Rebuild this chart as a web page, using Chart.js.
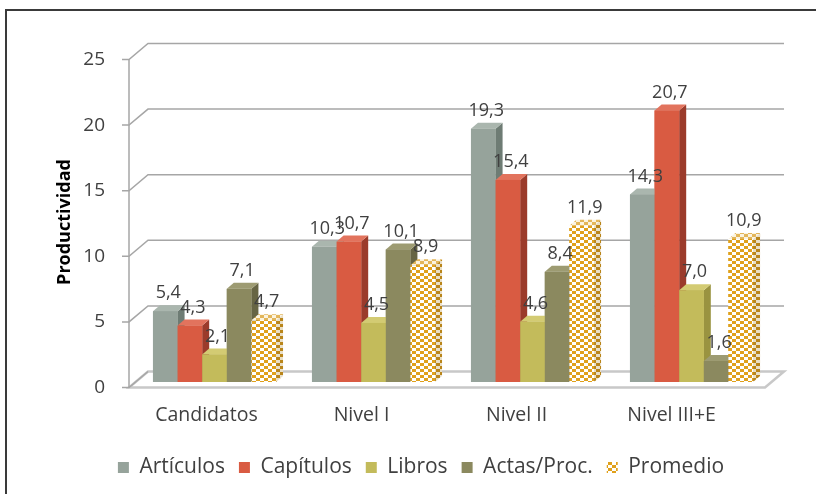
<!DOCTYPE html>
<html>
<head>
<meta charset="utf-8">
<script src="https://cdn.jsdelivr.net/npm/chart.js@4.4.0/dist/chart.umd.min.js"></script>
<style>
html, body { margin: 0; padding: 0; background: #fff; }
</style>
</head>
<body>
<canvas id="chart" width="816" height="494"></canvas>
<script>
// datos del gráfico
const categories = ["Candidatos", "Nivel I", "Nivel II", "Nivel III+E"];
const articulos  = [5.4, 10.3, 19.3, 14.3];
const capitulos  = [4.3, 10.7, 15.4, 20.7];
const libros     = [2.1, 4.5, 4.6, 7.0];
const actas      = [7.1, 10.1, 8.4, 1.6];
const promedio   = [4.7, 8.9, 11.9, 10.9];
const yTicks     = [0, 5, 10, 15, 20, 25];

const textColor = "#404040";
const fontName  = "'Open Sans'";

// profundidad de las barras y planos (efecto 3D de Excel)
const DX = 7, DY = -6;
const FRONT = { dx: -6, dy: 5.5 };
const BACK  = { dx: 13, dy: -10.5 };
const LABEL_SCALE = 0.975;   // las etiquetas de categoría quedan en el plano frontal

function makePattern(fg, bg) {
    let c = document.createElement("canvas");
    c.width = 8; c.height = 6;
    let g = c.getContext("2d");
    g.fillStyle = bg; g.fillRect(0, 0, 8, 6);
    g.fillStyle = fg;
    g.fillRect(0, 0, 4, 3);
    g.fillRect(4, 3, 4, 3);
    return g.createPattern(c, "repeat");
}

const promFront = makePattern("#e0a11c", "#ffffff");
const promSide  = makePattern("#b9851a", "#e9dfc8");
const promTop   = makePattern("#e3b65a", "#fbf3df");

// colores: frente, lado, arriba
const faces = [
    ["#96a39b", "#6e7c74", "#aab6ae"],
    ["#d95b42", "#9b3b2b", "#e2735d"],
    ["#c3bb5b", "#9a9340", "#d3cb73"],
    ["#8b895f", "#676544", "#9d9b72"],
    [promFront, promSide, promTop]
];

function fmt(v) {
    return v.toFixed(1).replace(".", ",");
}

const depthPlugin = {
    id: "depth3d",
    beforeDraw(chart) {
        let ctx = chart.ctx;
        ctx.save();
        ctx.fillStyle = "#ffffff";
        ctx.fillRect(0, 0, chart.width, chart.height);
        // marco
        ctx.strokeStyle = "#3a3a3a";
        ctx.lineWidth = 2;
        ctx.strokeRect(6, 10, 830, 520);
        ctx.restore();
    },
    beforeDatasetsDraw(chart) {
        let ctx = chart.ctx;
        let y = chart.scales.y;
        let x = chart.scales.x;
        let area = chart.chartArea;
        let fx = area.left + FRONT.dx;
        ctx.save();

        // piso
        let y0 = y.getPixelForValue(0);
        ctx.beginPath();
        ctx.moveTo(fx, y0 + FRONT.dy);
        ctx.lineTo(area.right + FRONT.dx, y0 + FRONT.dy);
        ctx.lineTo(area.right + BACK.dx, y0 + BACK.dy);
        ctx.lineTo(area.left + BACK.dx, y0 + BACK.dy);
        ctx.closePath();
        ctx.strokeStyle = "#c8c8c8";
        ctx.lineWidth = 2.5;
        ctx.stroke();

        ctx.strokeStyle = "#a6a6a6";
        ctx.lineWidth = 1.5;
        for (let v of yTicks) {
            let py = y.getPixelForValue(v);
            ctx.beginPath();
            ctx.moveTo(fx - 7, py + FRONT.dy);
            ctx.lineTo(fx, py + FRONT.dy);
            ctx.lineTo(area.left + BACK.dx, py + BACK.dy);
            if (v > 0) ctx.lineTo(area.right + BACK.dx, py + BACK.dy);
            ctx.stroke();
        }
        // eje vertical
        ctx.beginPath();
        ctx.moveTo(fx, y.getPixelForValue(25) + FRONT.dy);
        ctx.lineTo(fx, y0 + FRONT.dy);
        ctx.stroke();

        // etiquetas del eje y
        ctx.fillStyle = textColor;
        ctx.font = "19px " + fontName;
        ctx.textAlign = "right";
        ctx.textBaseline = "middle";
        for (let v of yTicks) {
            ctx.fillText(String(v), fx - 24, y.getPixelForValue(v) + FRONT.dy);
        }

        // etiquetas de categoría
        ctx.textAlign = "center";
        ctx.font = "19.5px " + fontName;
        categories.forEach((name, i) => {
            let cx = area.left + (x.getPixelForValue(i) - area.left) * LABEL_SCALE + FRONT.dx;
            ctx.fillText(name, cx, y0 + 33);
        });

        // título del eje
        ctx.translate(65, 222);
        ctx.rotate(-Math.PI / 2);
        ctx.font = "bold 18px " + fontName;
        ctx.fillStyle = "#000000";
        ctx.fillText("Productividad", 0, 0);
        ctx.restore();
    },
    afterDatasetsDraw(chart) {
        let ctx = chart.ctx;
        let metas = chart.data.datasets.map((d, i) => chart.getDatasetMeta(i));
        ctx.save();
        for (let c = 0; c < categories.length; c++) {
            for (let i = 0; i < metas.length; i++) {
                let b = metas[i].data[c].getProps(["x", "y", "base", "width"], true);
                let l = b.x - b.width / 2, r = b.x + b.width / 2;
                let t = b.y, bt = b.base;
                let f = faces[i];
                // lado
                ctx.fillStyle = f[1];
                ctx.beginPath();
                ctx.moveTo(r, t);
                ctx.lineTo(r + DX, t + DY);
                ctx.lineTo(r + DX, bt + DY);
                ctx.lineTo(r, bt);
                ctx.closePath();
                ctx.fill();
                // arriba
                ctx.fillStyle = f[2];
                ctx.beginPath();
                ctx.moveTo(l, t);
                ctx.lineTo(l + DX, t + DY);
                ctx.lineTo(r + DX, t + DY);
                ctx.lineTo(r, t);
                ctx.closePath();
                ctx.fill();
                // frente
                ctx.fillStyle = f[0];
                ctx.fillRect(l, t, r - l, bt - t);
            }
        }
        // etiquetas de datos
        ctx.fillStyle = textColor;
        ctx.font = "18px " + fontName;
        ctx.textAlign = "center";
        ctx.textBaseline = "bottom";
        for (let i = 0; i < metas.length; i++) {
            let values = chart.data.datasets[i].data;
            metas[i].data.forEach((bar, c) => {
                ctx.fillText(fmt(values[c]), bar.x + 3, bar.y + DY - 3);
            });
        }
        ctx.restore();
    }
};

const ctx = document.getElementById("chart").getContext("2d");
const myChart = new Chart(ctx, {
    type: "bar",
    data: {
        labels: categories,
        datasets: [
            { label: "Artículos",    data: articulos, backgroundColor: faces[0][0] },
            { label: "Capítulos",    data: capitulos, backgroundColor: faces[1][0] },
            { label: "Libros",       data: libros,    backgroundColor: faces[2][0] },
            { label: "Actas/Proc.",  data: actas,     backgroundColor: faces[3][0] },
            { label: "Promedio",     data: promedio,  backgroundColor: promFront }
        ]
    },
    options: {
        responsive: false,
        animation: false,
        layout: { padding: { left: 26, right: 0, top: 54, bottom: 6 } },
        datasets: { bar: { categoryPercentage: 0.774, barPercentage: 1.0 } },
        scales: {
            x: {
                grid: { display: false, drawTicks: false },
                border: { display: false },
                ticks: { display: false },
                afterFit: function (s) { s.height = 61; }
            },
            y: {
                min: 0, max: 25,
                grid: { display: false, drawTicks: false },
                border: { display: false },
                ticks: { display: false },
                afterFit: function (s) { s.width = 109; }
            },
            // eje vacío para reservar el margen derecho
            y2: {
                position: "right",
                grid: { display: false, drawTicks: false },
                border: { display: false },
                ticks: { display: false },
                afterFit: function (s) { s.width = 45; }
            }
        },
        plugins: {
            legend: {
                position: "bottom",
                labels: {
                    color: textColor,
                    font: { family: "Open Sans", size: 21 },
                    boxWidth: 11, boxHeight: 11,
                    padding: 14
                }
            },
            tooltip: { enabled: false }
        }
    },
    plugins: [depthPlugin]
});
</script>
</body>
</html>
